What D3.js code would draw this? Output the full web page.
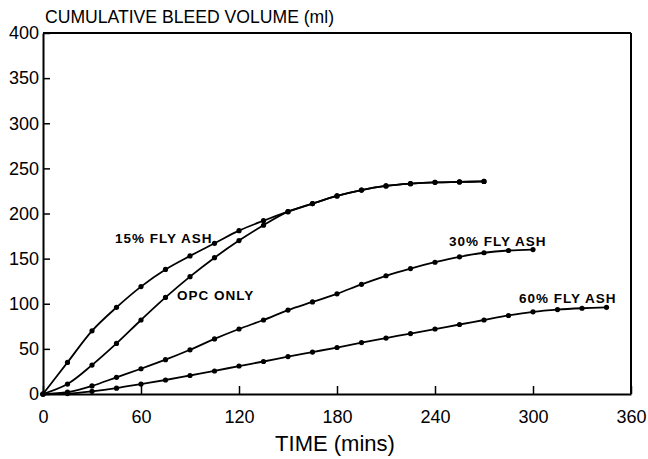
<!DOCTYPE html>
<head>
<meta charset="utf-8">
<title>Cumulative bleed volume</title>
<script src="https://d3js.org/d3.v7.min.js" charset="utf-8"></script>
<style>
  body { margin: 0; background: #fff; }
  svg { display: block; }
  text { font-family: "Liberation Sans", Arial, sans-serif; fill: #000; }
</style>
</head>
<body>
<div id="chart"></div>
<script>
// time in minutes, every 15 min
const time15 = [0,15,30,45,60,75,90,105,120,135,150,165,180,195,210,225,240,255,270];
const flyAsh15 = [0,35,70,96,119,138,153,167,181,192,202,211,219.5,226,230.5,233,234.5,235,235.5];
const opcOnly = [0,11,32,56,82,107,130,151,170,187,202,211,219.5,226,230.5,233,234.5,235,235.5];
const time30 = [0,15,30,45,60,75,90,105,120,135,150,165,180,195,210,225,240,255,270,285,300];
const flyAsh30 = [0,2,9,18.5,28,38,49,61,72,82,93,102,111,121.5,131,139,146,152,156.5,159,160];
const time60 = [0,15,30,45,60,75,90,105,120,135,150,165,180,195,210,225,240,255,270,285,300,315,330,345];
const flyAsh60 = [0,0.5,3,6.5,11,15.5,20.5,25.5,31,36,41.5,46.5,51.5,57,62,67,72,77,82,87,91,93.5,95,96];

const xTicks = [0,60,120,180,240,300,360];
const yTicks = [0,50,100,150,200,250,300,350,400];

const seriesList = [
  { name: "15% FLY ASH", t: time15, v: flyAsh15, lx: 115, ly: 243 },
  { name: "OPC ONLY", t: time15, v: opcOnly, lx: 177, ly: 300 },
  { name: "30% FLY ASH", t: time30, v: flyAsh30, lx: 449, ly: 246 },
  { name: "60% FLY ASH", t: time60, v: flyAsh60, lx: 519, ly: 303 }
];

let w = 648, h = 459;
let margin = { left: 43, right: 631, top: 33, bottom: 394 };

let svg = d3.select("#chart").append("svg")
    .attr("width", w)
    .attr("height", h);

let xScale = d3.scaleLinear().domain([0, 360]).range([margin.left, margin.right]);
let yScale = d3.scaleLinear().domain([0, 400]).range([margin.bottom, margin.top]);

// axes, ticks pointing inward
let xAxis = d3.axisBottom(xScale).tickValues(xTicks).tickSize(-8).tickPadding(16).tickSizeOuter(0);
let yAxis = d3.axisLeft(yScale).tickValues(yTicks).tickSize(-7).tickPadding(4).tickSizeOuter(0);

let gx = svg.append("g")
    .attr("transform", "translate(0," + margin.bottom + ")")
    .call(xAxis);
let gy = svg.append("g")
    .attr("transform", "translate(" + margin.left + ",0)")
    .call(yAxis);

[gx, gy].forEach(function(g){
  g.select(".domain").attr("stroke", "#000").attr("stroke-width", 2);
  g.selectAll(".tick line").attr("stroke", "#000").attr("stroke-width", 1.5);
  g.selectAll(".tick text").style("font-size", "18px").attr("fill", "#000");
});

// top and right frame
svg.append("line")
    .attr("x1", xScale(0)).attr("x2", xScale(360))
    .attr("y1", yScale(400)).attr("y2", yScale(400))
    .attr("stroke", "#000").attr("stroke-width", 2);
svg.append("line")
    .attr("x1", xScale(360)).attr("x2", xScale(360))
    .attr("y1", yScale(400)).attr("y2", yScale(0))
    .attr("stroke", "#000").attr("stroke-width", 2);

let line = d3.line()
    .x(function(d){ return xScale(d[0]); })
    .y(function(d){ return yScale(d[1]); })
    .curve(d3.curveCatmullRom.alpha(0.5));

seriesList.forEach(function(s){
  let pts = s.t.map(function(t, i){ return [t, s.v[i]]; });
  svg.append("path")
      .datum(pts)
      .attr("d", line)
      .attr("fill", "none")
      .attr("stroke", "#000")
      .attr("stroke-width", 1.8);
  svg.append("g").selectAll("circle")
      .data(pts).enter()
      .append("circle")
      .attr("cx", function(d){ return xScale(d[0]); })
      .attr("cy", function(d){ return yScale(d[1]); })
      .attr("r", 2.6)
      .attr("fill", "#000");
  svg.append("text")
      .attr("x", s.lx).attr("y", s.ly)
      .style("font-size", "13.5px")
      .style("font-weight", "bold")
      .style("letter-spacing", "1px")
      .text(s.name);
});

// titles
svg.append("text")
    .attr("x", 45).attr("y", 23)
    .style("font-size", "17.6px")
    .text("CUMULATIVE BLEED VOLUME (ml)");

svg.append("text")
    .attr("x", xScale(180) - 2).attr("y", 451)
    .attr("text-anchor", "middle")
    .style("font-size", "22px")
    .text("TIME (mins)");
</script>
</body>
</html>
